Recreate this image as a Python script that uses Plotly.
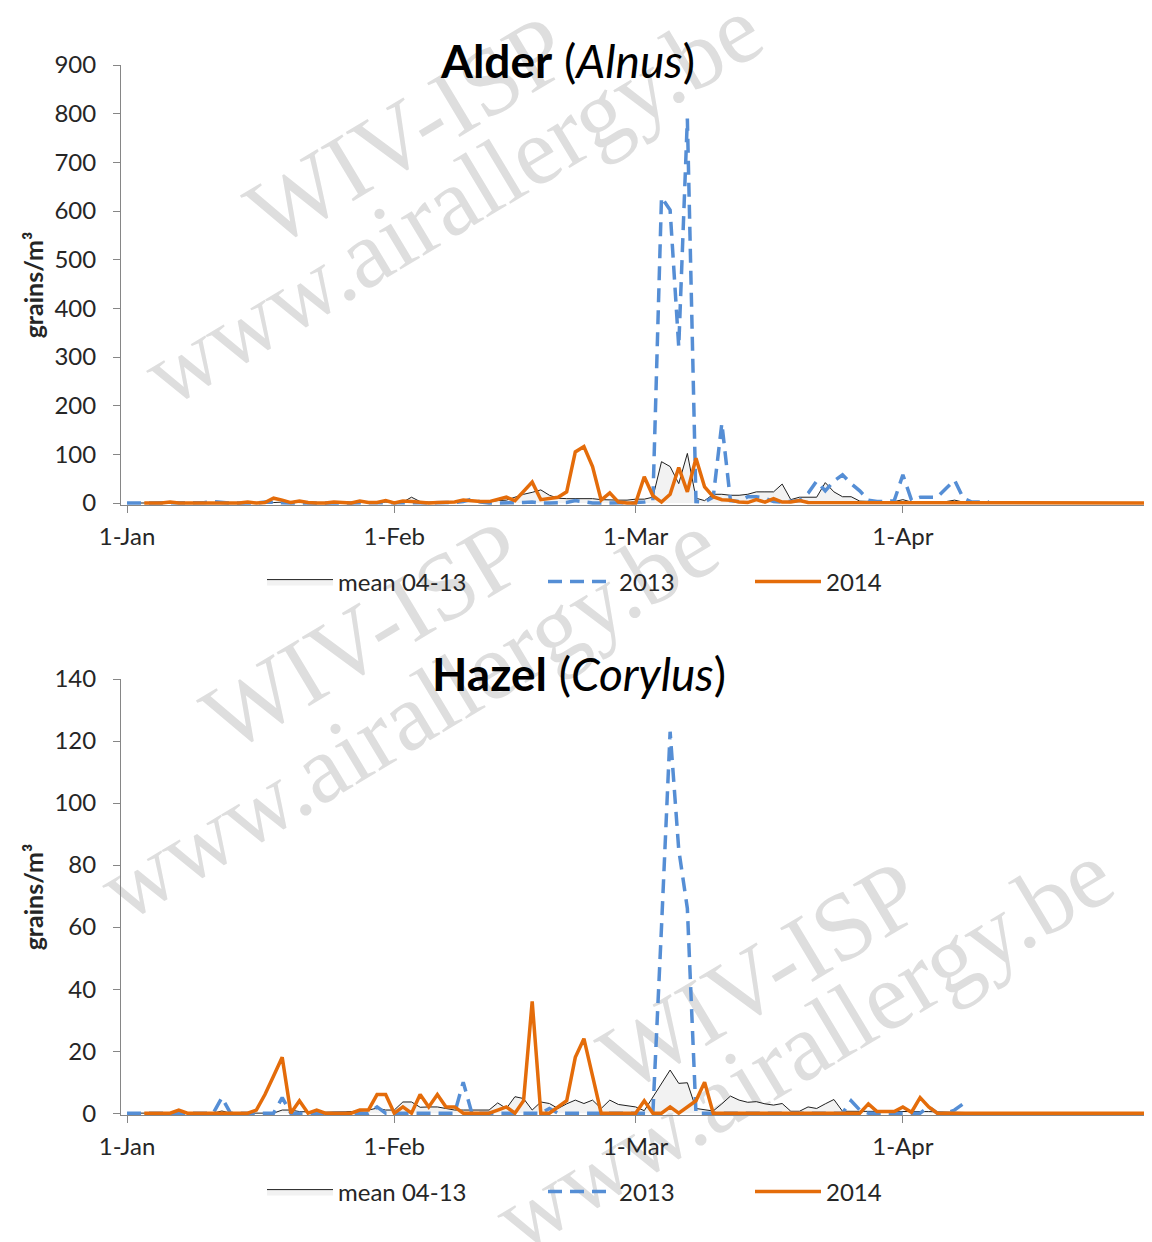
import plotly.graph_objects as go

# ---------------- data (day index 0 = 1 January) ----------------
DAYS = list(range(120))
X_TICK_DAYS = [0, 31, 59, 90]
X_TICK_LABELS = ["1-Jan", "1-Feb", "1-Mar", "1-Apr"]
SERIES_NAMES = ["mean 04-13", "2013", "2014"]

ALDER_MEAN = [
    0, 0, 1, 0, 1, 0, 0, 1, 0, 1,
    1, 0, 1, 0, 1, 1, 0, 1, 2, 1,
    1, 1, 0, 1, 1, 2, 1, 1, 1, 2,
    2, 3, 2, 12, 3, 2, 2, 3, 2, 4,
    4, 3, 3, 5, 6, 12, 18, 22, 27, 16,
    10, 9, 9, 8, 9, 7, 6, 6, 6, 8,
    8, 12, 85, 75, 40, 102, 10, 5, 18, 18,
    16, 16, 18, 23, 23, 23, 39, 7, 12, 12,
    12, 42, 23, 13, 13, 4, 3, 3, 3, 3,
    7, 2, 3, 3, 3, 3, 6, 2, 2, 2,
    2, 2, 1, 1, 1, 1, 1, 1, 1, 1,
    1, 2, 1, 1, 1, 2, 1, 1, 0, 0,
]
ALDER_2013 = [
    0, 0, 0, 0, 0, 0, 0, 0, 0, 1,
    3, 1, 0, 0, 0, 0, 2, 1, 0, 0,
    0, 0, 0, 0, 0, 0, 0, 0, 0, 0,
    0, 1, 0, 0, 0, 0, 0, 0, 1, 3,
    8, 2, 0, 0, 0, 0, 1, 2, 0, 0,
    0, 1, 5, 3, 0, 0, 0, 0, 0, 1,
    2, 5, 628, 602, 321, 790, 3, 2, 12, 164,
    5, 3, 13, 13, 10, 3, 2, 3, 5, 20,
    45, 25, 45, 58, 40, 25, 6, 3, 3, 5,
    58, 6, 12, 12, 12, 30, 47, 10, 2, 2,
    2, None, None, None, None, None, None, None, None, None,
    None, None, None, None, None, None, None, None, None, None,
]
ALDER_2014 = [
    None, None, 0, 0, 0, 2, 0, 0, 0, 0,
    0, 0, 1, 0, 2, 0, 1, 10, 6, 1,
    4, 1, 0, 0, 2, 1, 0, 4, 1, 1,
    5, 0, 4, 3, 1, 0, 1, 1, 2, 6,
    4, 3, 3, 7, 12, 5, 24, 43, 7, 9,
    12, 23, 105, 116, 75, 6, 21, 2, 0, 0,
    54, 15, 2, 18, 73, 23, 92, 33, 13, 7,
    6, 2, 1, 7, 2, 9, 2, 2, 5, 1,
    1, 0, 1, 0, 0, 1, 0, 0, 1, 0,
    0, 1, 0, 0, 1, 0, 0, 0, 0, 0,
    0, 0, 0, 0, 0, 0, 0, 0, 0, 0,
    0, 0, 0, 0, 0, 0, 0, 0, 0, 0,
]

HAZEL_MEAN = [
    0, 0, 0, 0, 0, 0, 0, 0, 0, 0,
    0, 0.7, 0, 0, 0, 0, 0, 0, 1, 1,
    0.5, 0.3, 0.3, 0.3, 0.3, 0.5, 0.5, 0.7, 1, 1.6,
    1, 1, 3.6, 3.6, 1.9, 2, 2, 1.5, 1, 1,
    1, 1, 1, 3.3, 1.5, 5.3, 4.7, 1, 3.6, 3.1,
    1.5, 3, 4.2, 3.1, 4.2, 1.5, 4.2, 2.8, 2.4, 2,
    0.8, 5.3, 9.6, 13.9, 9.6, 9.8, 1.5, 1, 0.7, 3,
    5.5, 4.2, 3.5, 3.7, 3, 2.6, 3.1, 0.6, 0.6, 2,
    1.5, 3, 4.4, 0.6, 0.6, 0.7, 0.7, 0.7, 0.6, 0.6,
    0.7, 0.5, 0.6, 0.5, 0.4, 0.3, 0.3, 0.2, 0.2, 0.1,
    0.1, 0, 0, 0, 0, 0, 0, 0, 0, 0,
    0, 0, 0, 0, 0, 0, 0, 0, 0, 0,
]
HAZEL_2013 = [
    0, 0, 0, 0, 0, 0, 0, 0, 0, 0,
    0, 5, 0, 0, 0, 0, 0, 0, 5, 0,
    0, 0, 0, 0, 0, 0, 0, 0, 0, 2,
    0, 0, 0, 0, 0, 0, 0, 0, 0, 10,
    0, 0, 0, 0, 0, 0, 0, 0, 0, 1.5,
    0, 0, 0, 0, 0, 0, 0, 0, 0, 0,
    0, 0, 60, 123, 85, 66, 0, 0, 0, 0,
    0, 0, 0, 0, 0, 0, 0, 0, 0, 0,
    0, 0, 0, 0, 4, 1, 0, 0, 0, 0,
    0, 0, 0, 2, 0, 0, 1, 3, None, None,
    None, None, None, None, None, None, None, None, None, None,
    None, None, None, None, None, None, None, None, None, None,
]
HAZEL_2014 = [
    None, None, 0, 0, 0, 0, 1, 0, 0, 0,
    0, 0, 0, 0, 0, 1, 6, 12, 18, 0,
    4, 0, 1, 0, 0, 0, 0, 1, 1, 6,
    6, 0, 2, 0, 6, 2, 6, 2, 2, 0,
    0, 0, 0, 1, 2, 0, 4, 36, 0, 0,
    2, 4, 18, 24, 12, 0, 0, 0, 0, 0,
    4, 0, 0, 2, 0, 2, 4, 10, 0, 0,
    0, 0, 0, 0, 0, 0, 0, 0, 0, 0,
    0, 0, 0, 0, 0, 0, 3, 0.5, 0.5, 0.5,
    2, 0.3, 5, 2, 0, 0, 0, 0, 0, 0,
    0, 0, 0, 0, 0, 0, 0, 0, 0, 0,
    0, 0, 0, 0, 0, 0, 0, 0, 0, 0,
]

# ---------------- styling ----------------
# the page body adds an 8 px offset, so the figure is sized and placed for it
OFF = 8
W, H = 1152 - OFF, 1242 - OFF
ML = 121 - OFF          # plot area starts at page x = 121
PW = W - ML
FONT = "Lato"
TXT = "#262626"
AXC = "#868686"
C_MEAN_FILL = "#F2F2F2"
C_MEAN_LINE = "#1F1F1F"
C_2013 = "#558ED5"
C_2014 = "#E46C0A"


def px_x(p):
    """page pixel x -> paper x"""
    return (p - OFF - ML) / PW


def px_y(p):
    """page pixel y -> paper y"""
    return 1 - (p - OFF) / H


fig = go.Figure()


def add_panel(mean, s13, s14, xa, ya, legs):
    fig.add_trace(go.Scatter(
        x=DAYS, y=mean, mode="lines", name=SERIES_NAMES[0], fill="tozeroy",
        fillcolor=C_MEAN_FILL, line=dict(color=C_MEAN_LINE, width=1),
        xaxis=xa, yaxis=ya, legend=legs[0], showlegend=True))
    fig.add_trace(go.Scatter(
        x=DAYS, y=s13, mode="lines", name=SERIES_NAMES[1],
        line=dict(color=C_2013, width=3.5, dash="14px,8px"),
        xaxis=xa, yaxis=ya, legend=legs[1], showlegend=True))
    fig.add_trace(go.Scatter(
        x=DAYS, y=s14, mode="lines", name=SERIES_NAMES[2],
        line=dict(color=C_2014, width=3.5),
        xaxis=xa, yaxis=ya, legend=legs[2], showlegend=True))


add_panel(ALDER_MEAN, ALDER_2013, ALDER_2014, "x", "y", ["legend", "legend2", "legend3"])
add_panel(HAZEL_MEAN, HAZEL_2013, HAZEL_2014, "x2", "y2", ["legend4", "legend5", "legend6"])

xaxis_common = dict(
    range=[-0.7, 118.9], tickvals=X_TICK_DAYS, ticktext=X_TICK_LABELS,
    showline=True, linecolor=AXC, linewidth=1, ticks="outside", ticklen=7,
    tickcolor=AXC, showgrid=False, zeroline=False, ticklabelstandoff=3,
    tickfont=dict(family=FONT, size=24, color=TXT), fixedrange=True, automargin=False,
)
yaxis_common = dict(
    showline=True, linecolor=AXC, linewidth=1, ticks="outside", ticklen=7,
    tickcolor=AXC, showgrid=False, zeroline=False, ticklabelstandoff=12,
    tickfont=dict(family=FONT, size=24, color=TXT), tick0=0, automargin=False,
    title=dict(text="<b>grains/m³</b>", font=dict(family=FONT, size=25, color=TXT), standoff=3),
)

fig.update_layout(
    width=W, height=H, margin=dict(l=ML, r=0, t=0, b=0, autoexpand=False),
    paper_bgcolor="white", plot_bgcolor="rgba(0,0,0,0)", showlegend=True,
    font=dict(family=FONT, size=24, color=TXT),
    xaxis=dict(domain=[0, 1], anchor="y", **xaxis_common),
    yaxis=dict(domain=[px_y(505), px_y(65)], anchor="x", range=[-4, 900], dtick=100, **yaxis_common),
    xaxis2=dict(domain=[0, 1], anchor="y2", **xaxis_common),
    yaxis2=dict(domain=[px_y(1115), px_y(679)], anchor="x2", range=[-0.6, 140], dtick=20, **yaxis_common),
)

# legends: one per entry, placed like the original
LEG_POS_X = [262, 543, 750]
for i, key in enumerate(["legend", "legend2", "legend3", "legend4", "legend5", "legend6"]):
    ypix = 582 if i < 3 else 1192
    fig.update_layout({key: dict(
        x=px_x(LEG_POS_X[i % 3]), y=px_y(ypix), xanchor="left", yanchor="middle",
        orientation="h", itemwidth=66, bgcolor="rgba(0,0,0,0)", visible=True,
        font=dict(family=FONT, size=24, color=TXT), tracegroupgap=0,
    )})

# titles
fig.add_annotation(xref="paper", yref="paper", x=px_x(567), y=px_y(60), yanchor="middle",
                   text="<b>Alder</b> (<i>Alnus</i>)", showarrow=False,
                   font=dict(family=FONT, size=46, color="black"))
fig.add_annotation(xref="paper", yref="paper", x=px_x(579), y=px_y(673), yanchor="middle",
                   text="<b>Hazel</b> (<i>Corylus</i>)", showarrow=False,
                   font=dict(family=FONT, size=46, color="black"))

# watermark text (drawn below the data)
WATERMARKS = [
    ("WIV-ISP", 402, 122), ("www.airallergy.be", 447, 192),
    ("WIV-ISP", 358, 627), ("www.airallergy.be", 403, 707),
    ("WIV-ISP", 755, 967), ("www.airallergy.be", 798, 1037),
]
for text, cx, cy in WATERMARKS:
    fig.add_shape(type="rect", xref="paper", yref="paper",
                  x0=px_x(cx - 2), x1=px_x(cx + 2), y0=px_y(cy + 2), y1=px_y(cy - 2),
                  line=dict(width=0), fillcolor="rgba(0,0,0,0)", layer="below",
                  label=dict(text=text, textangle=-31, textposition="middle center",
                             font=dict(family="Liberation Serif", size=96, color="#DEDEDE")))

fig.write_html("out.html")
